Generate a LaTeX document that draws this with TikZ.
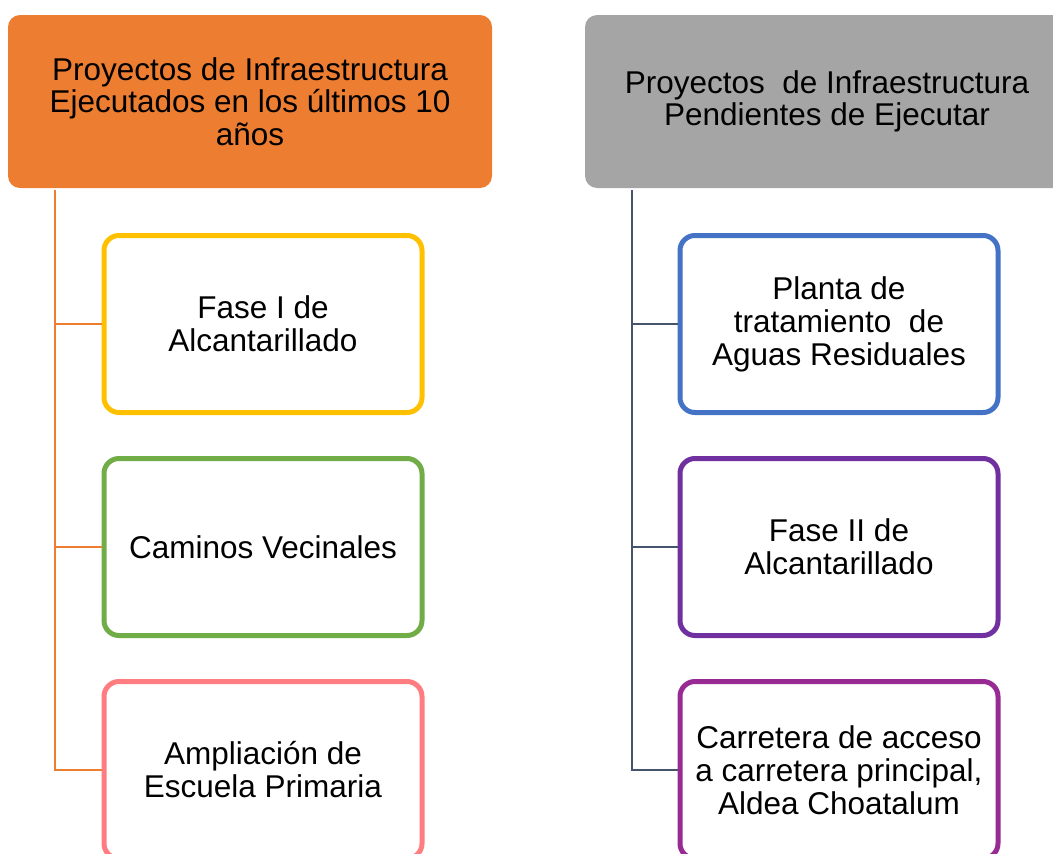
\documentclass[tikz,border=0pt]{standalone}
\usepackage{fontspec}
\setmainfont{Liberation Sans}
\usepackage[]{xcolor}
\usepackage{tikz}

\definecolor{naranja}{HTML}{ED7D31}
\definecolor{gris}{HTML}{A5A5A5}
\definecolor{pizarra}{HTML}{44546A}
\definecolor{amarillo}{HTML}{FFC000}
\definecolor{verde}{HTML}{70AD47}
\definecolor{rosa}{HTML}{FF7C80}
\definecolor{azul}{HTML}{4472C4}
\definecolor{morado}{HTML}{7030A0}
\definecolor{magenta}{HTML}{982A94}

\begin{document}
\begin{tikzpicture}[x=1pt,y=-1pt,
    cabecera/.style={rounded corners=12pt,minimum width=484pt,minimum height=173pt,
      inner sep=0pt,align=center,font=\fontsize{31.5}{32.5}\selectfont},
    caja/.style={draw,line width=5pt,rounded corners=15pt,fill=white,
      minimum width=318pt,minimum height=177pt,inner sep=0pt,align=center,
      font=\fontsize{31.5}{33}\selectfont},
    rama/.style={line width=2.5pt}]
      \useasboundingbox (0,0) rectangle (1053,854);
      \clip (0,0) rectangle (1053,854);
      % cabeceras
      \node[cabecera,fill=naranja] (ejec) at (250,101.5)
        {Proyectos de Infraestructura\\Ejecutados en los últimos 10\\años};
      \node[cabecera,fill=gris] (pend) at (827,101.5)
        {Proyectos~ de Infraestructura\\Pendientes de Ejecutar};
      % ejecutados
      \node[caja,draw=amarillo] (fase1) at (263,324) {Fase I de\\Alcantarillado};
      \node[caja,draw=verde] (caminos) at (263,547) {Caminos Vecinales};
      \node[caja,draw=rosa] (escuela) at (263,770) {Ampliación de\\Escuela Primaria};
      % pendientes
      \node[caja,draw=azul] (planta) at (839,324) {Planta de\\tratamiento~ de\\Aguas Residuales};
      \node[caja,draw=morado] (fase2) at (839,547) {Fase II de\\Alcantarillado};
      \node[caja,draw=magenta] (carretera) at (839,770)
        {Carretera de acceso\\a carretera principal,\\Aldea Choatalum};
      % ramas
      \coordinate (raizE) at (55,190);
      \coordinate (raizP) at (632,190);
      \draw[rama,naranja] (raizE) |- (fase1.west);
      \draw[rama,naranja] (raizE) |- (caminos.west);
      \draw[rama,naranja] (raizE) |- (escuela.west);
      \draw[rama,pizarra] (raizP) |- (planta.west);
      \draw[rama,pizarra] (raizP) |- (fase2.west);
      \draw[rama,pizarra] (raizP) |- (carretera.west);
\end{tikzpicture}
\end{document}
